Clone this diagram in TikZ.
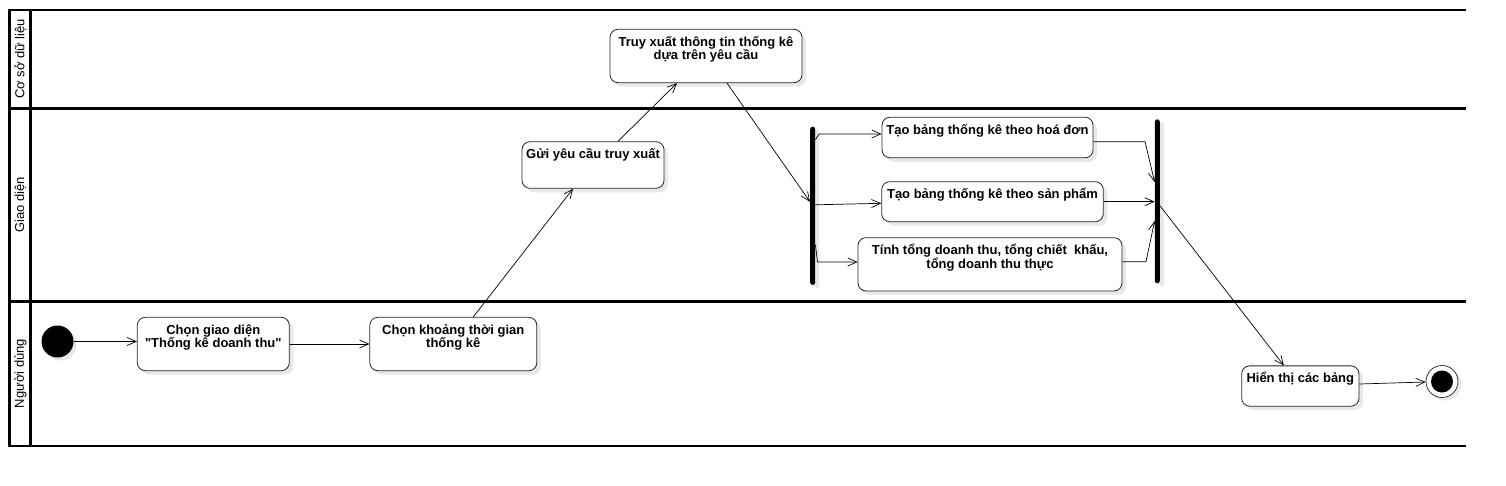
\documentclass[tikz,border=0pt]{standalone}
\usepackage{fontspec}
\setmainfont{Liberation Sans}[Ligatures=TeXOff]
\usetikzlibrary{arrows.meta,shadows}
\begin{document}
\begin{tikzpicture}[x=1pt,y=-1pt,
  shade box/.style={drop shadow={shadow xshift=4pt,shadow yshift=-4pt,fill=black!9,opacity=1}},
  act/.style={draw=black!85,line width=0.8pt,rounded corners=8pt,fill=white,inner sep=0pt,shade box},
  acttext/.style={anchor=north,inner sep=0pt,align=center,font=\fontsize{13}{12.5}\selectfont\bfseries},
  syncbar/.style={fill=black,inner sep=0pt,minimum width=5pt,rounded corners=2.5pt,
     drop shadow={shadow xshift=4pt,shadow yshift=-3pt,fill=black!9,opacity=1}},
  flow/.style={draw=black,line width=0.7pt,-{Straight Barb[length=9pt,width=8pt]}},
  lane/.style={line width=2.2pt},
  lanelabel/.style={rotate=90,inner sep=0pt,font=\fontsize{13}{13}\selectfont}
]
\useasboundingbox (0,0) rectangle (1506,485);

% swimlane frame
\draw[lane] (8.4,10) -- (1466,10);
\draw[lane] (8.4,108.5) -- (1466,108.5);
\draw[lane] (8.4,301.5) -- (1466,301.5);
\draw[lane] (8.4,446) -- (1466,446);
\draw[lane] (9.5,10) -- (9.5,446);
\draw[lane] (30.5,10) -- (30.5,446);
\node[lanelabel] (l1) at (20.5,59) {Cơ sở dữ liệu};
\node[lanelabel] (l2) at (20.5,205) {Giao diện};
\node[lanelabel] (l3) at (20.5,373.5) {Người dùng};

% start / end
\node[circle,fill=black,minimum size=32pt,inner sep=0pt,
  drop shadow={shadow xshift=3pt,shadow yshift=-3pt,fill=black!9,opacity=1}] (start) at (57.5,341.5) {};
\node[circle,draw=black!80,line width=0.8pt,fill=white,minimum size=32pt,inner sep=0pt,
  drop shadow={shadow xshift=3pt,shadow yshift=-3pt,fill=black!9,opacity=1}] (end) at (1442,381.5) {};
\fill[black] (end.center) circle[radius=11pt];

% actions
\node[act,minimum width=152pt,minimum height=53.4pt] (cg) at (213.3,344) {};
\node[acttext] (cgt) at ([yshift=-4pt]cg.north) {\rule{0pt}{13pt}Chọn giao diện\\"Thống kê doanh thu"};

\node[act,minimum width=167pt,minimum height=53.4pt] (ck) at (453.3,344) {};
\node[acttext] (ckt) at ([yshift=-4pt]ck.north) {\rule{0pt}{13pt}Chọn khoảng thời gian\\thống kê};

\node[act,minimum width=142pt,minimum height=46.6pt] (gui) at (593,165) {};
\node[acttext] (guit) at ([yshift=-4pt]gui.north) {\rule{0pt}{13pt}Gửi yêu cầu truy xuất};

\node[act,minimum width=192pt,minimum height=53.4pt] (tx) at (706,56) {};
\node[acttext] (txt) at ([yshift=-4pt]tx.north) {\rule{0pt}{13pt}Truy xuất thông tin thống kê\\dựa trên yêu cầu};

\node[act,minimum width=211pt,minimum height=40.6pt] (b1) at (987.5,137.5) {};
\node[acttext] (b1t) at ([yshift=-4pt]b1.north) {\rule{0pt}{13pt}Tạo bảng thống kê theo hoá đơn};

\node[act,minimum width=221.6pt,minimum height=40pt] (b2) at (992.5,201.7) {};
\node[acttext] (b2t) at ([yshift=-4pt]b2.north) {\rule{0pt}{13pt}Tạo bảng thống kê theo sản phẩm};

\node[act,minimum width=264pt,minimum height=53.3pt] (b3) at (990,264.3) {};
\node[acttext] (b3t) at ([yshift=-4pt]b3.north) {\rule{0pt}{13pt}Tính tổng doanh thu, tổng chiết~ khấu,\\tổng doanh thu thực};

\node[act,minimum width=117.3pt,minimum height=40.3pt] (ht) at (1300.3,386) {};
\node[acttext] (htt) at ([yshift=-4pt]ht.north) {\rule{0pt}{13pt}Hiển thị các bảng};

% fork / join bars
\node[syncbar,minimum height=158.3pt] (fork) at (812.7,205.8) {};
\node[syncbar,minimum height=164pt] (join) at (1157.3,201.3) {};

% connectors
\draw[flow] (start) -- (start -| cg.west);
\draw[flow] (cg.east) -- (ck.west);
\draw[flow] ([xshift=20pt]ck.north) -- ([xshift=-20pt]gui.south);
\draw[flow] ([xshift=25pt]gui.north) -- ([xshift=-29pt]tx.south);
\draw[flow] ([xshift=21pt]tx.south) -- ([yshift=4pt]fork.west);

\coordinate (k1) at (819,134);
\draw[flow] ([yshift=66pt]fork.east) -- (k1) -- (k1 -| b1.west);
\draw[flow] ([yshift=1pt]fork.east) -- ([yshift=-1.6pt]b2.west);
\coordinate (k3) at (817.5,262);
\draw[flow] ([yshift=-39pt]fork.east) -- (k3) -- (k3 -| b3.west);

\coordinate (m1) at (1145,141.7);
\draw[flow] (b1.east |- m1) -- (m1) -- ([yshift=19.3pt]join.west);
\draw[flow] (b2.east) -- (b2.east -| join.west);
\coordinate (m3) at (1146,261.7);
\draw[flow] (b3.east |- m3) -- (m3) -- ([yshift=-19.7pt]join.west);

\draw[flow] ([yshift=-4.5pt]join.east) -- ([xshift=-16.5pt]ht.north);
\draw[flow] ([yshift=2pt]ht.east) -- (end);
\end{tikzpicture}
\end{document}
